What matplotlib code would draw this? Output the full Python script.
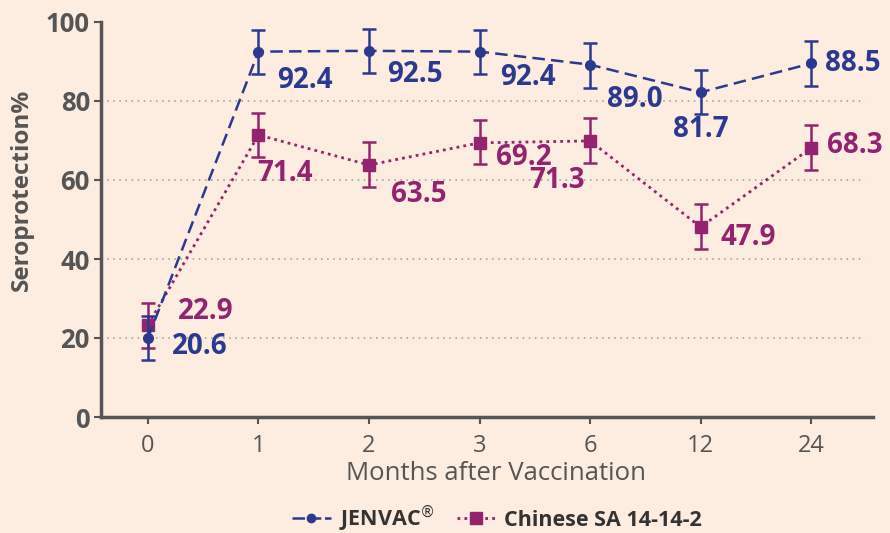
import matplotlib
matplotlib.use("Agg")
import matplotlib.pyplot as plt
from matplotlib.lines import Line2D

categories = ["0", "1", "2", "3", "6", "12", "24"]
jen_values = [20.0, 92.5, 92.7, 92.5, 89.2, 82.2, 89.5]
jen_low = [14.4, 86.9, 87.0, 86.9, 83.3, 76.6, 83.8]
jen_high = [25.6, 98.1, 98.2, 98.1, 94.8, 87.8, 95.1]
jen_labels = ["20.6", "92.4", "92.5", "92.4", "89.0", "81.7", "88.5"]

chn_values = [23.3, 71.4, 63.8, 69.4, 69.9, 48.1, 68.1]
chn_low = [17.5, 65.7, 58.2, 64.0, 64.3, 42.5, 62.5]
chn_high = [28.9, 77.0, 69.5, 75.2, 75.6, 53.8, 73.8]
chn_labels = ["22.9", "71.4", "63.5", "69.2", "71.3", "47.9", "68.3"]

yticks = [0, 20, 40, 60, 80, 100]

BLUE = "#2b3990"
PURPLE = "#93236f"
GREY = "#555555"
BG = "#fdece0"

plt.rcParams['font.family'] = ['Open Sans', 'DejaVu Sans']

fig = plt.figure(figsize=(8.9, 5.33), dpi=100, facecolor=BG)
ax = fig.add_axes([101/890, (533-417)/533, (873-101)/890, (417-22)/533])
ax.set_facecolor(BG)

x = list(range(len(categories)))

for yv in [20, 40, 60, 80]:
    ax.axhline(yv, xmin=0, xmax=(865-101)/(873-101), color="#999999", lw=1.1,
               linestyle=(0, (1, 3)), zorder=1)

jen_err = [[v - l for v, l in zip(jen_values, jen_low)], [h - v for v, h in zip(jen_values, jen_high)]]
chn_err = [[v - l for v, l in zip(chn_values, chn_low)], [h - v for v, h in zip(chn_values, chn_high)]]

ax.errorbar(x, chn_values, yerr=chn_err, color=PURPLE, ecolor=PURPLE, elinewidth=1.8,
            capsize=5, capthick=1.8, linestyle=(0, (1, 1.5)), lw=2, marker='s', ms=9, zorder=3)
ax.errorbar(x, jen_values, yerr=jen_err, color=BLUE, ecolor=BLUE, elinewidth=1.8,
            capsize=5, capthick=1.8, linestyle=(0, (5, 2.5)), lw=1.8, marker='o', ms=7, zorder=4)

jen_off = [(52, -9), (46, -29), (46, -24), (48, -26), (45, -35), (0, -37), (42, 0)]
chn_off = [(58, 13), (27, -39), (50, -30), (44, -15), (-33, -40), (48, -10), (44, 3)]

for i in x:
    ax.annotate(jen_labels[i], (i, jen_values[i]), xytext=jen_off[i], textcoords='offset pixels',
                ha='center', va='center', color=BLUE, fontsize=20, fontweight='bold', zorder=5)
    ax.annotate(chn_labels[i], (i, chn_values[i]), xytext=chn_off[i], textcoords='offset pixels',
                ha='center', va='center', color=PURPLE, fontsize=20, fontweight='bold', zorder=5)

ax.set_xlim(-0.425, 6.56)
ax.set_ylim(0, 100)
ax.set_xticks(x)
ax.set_xticklabels(categories, fontsize=17, color=GREY)
ax.set_yticks(yticks)
ax.set_yticklabels([str(t) for t in yticks], fontsize=18.5, color=GREY, fontweight='bold')
ax.tick_params(axis='both', colors=GREY, width=1.5, length=5)
ax.tick_params(axis='x', pad=7)
ax.tick_params(axis='y', pad=3)

for s in ['top', 'right']:
    ax.spines[s].set_visible(False)
for s in ['left', 'bottom']:
    ax.spines[s].set_color(GREY)
    ax.spines[s].set_linewidth(2.5)

ax.set_xlabel("Months after Vaccination", fontsize=18.5, color=GREY)
ax.xaxis.set_label_coords((496-101)/772, -(461-417)/395)
ax.set_ylabel("Seroprotection%", fontsize=17.5, color=GREY, fontweight='bold')
ax.yaxis.set_label_coords(-(101-34)/772, (417-190)/395)

handles = [
    Line2D([], [], color=BLUE, linestyle=(0, (5, 1.5)), lw=1.8, marker='o', ms=6),
    Line2D([], [], color=PURPLE, linestyle=(0, (1, 1.5)), lw=2, marker='s', ms=8),
]
leg = fig.legend(handles, [r"JENVAC$^{\circledR}$", "Chinese SA 14-14-2"], loc='center',
                 bbox_to_anchor=(497/890, 1 - 519/533), ncol=2, frameon=False,
                 prop={'size': 15.5, 'weight': 'bold'}, handlelength=1.8, columnspacing=1.0,
                 handletextpad=0.4)
for t in leg.get_texts():
    t.set_color("#333333")

fig.savefig("out.png", dpi=100, facecolor=BG)
